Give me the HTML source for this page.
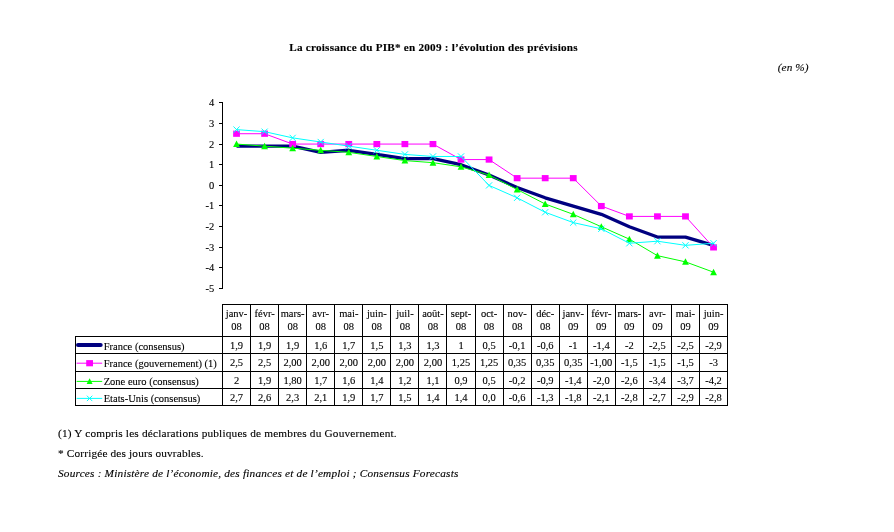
<!DOCTYPE html><html lang="fr"><head><meta charset="utf-8"><title>La croissance du PIB* en 2009</title>
<style>html,body{margin:0;padding:0;background:#fff}body{width:894px;height:532px;overflow:hidden}svg{display:block}text{font-family:"Liberation Serif","Times New Roman",serif;fill:#000;stroke:#000;stroke-width:0.12px}</style></head><body>
<svg width="894" height="532" viewBox="0 0 894 532">
<rect width="894" height="532" fill="#fff"/>
<text x="289.3" y="51" font-size="11.2" font-weight="bold" textLength="288.3" lengthAdjust="spacing">La croissance du PIB* en 2009 : l’évolution des prévisions</text>
<text x="777.8" y="71" font-size="11.3" font-style="italic" textLength="30.6" lengthAdjust="spacing">(en %)</text>
<g fill="#000">
<rect x="222" y="102" width="1" height="187"/>
<rect x="219" y="288" width="3" height="1"/>
<rect x="219" y="267" width="3" height="1"/>
<rect x="219" y="247" width="3" height="1"/>
<rect x="219" y="226" width="3" height="1"/>
<rect x="219" y="205" width="3" height="1"/>
<rect x="219" y="185" width="3" height="1"/>
<rect x="219" y="164" width="3" height="1"/>
<rect x="219" y="144" width="3" height="1"/>
<rect x="219" y="123" width="3" height="1"/>
<rect x="219" y="102" width="3" height="1"/>
</g>
<text transform="translate(214.30 292.30) scale(0.93 1)" font-size="11.3" text-anchor="end">-5</text>
<text transform="translate(214.30 271.30) scale(0.93 1)" font-size="11.3" text-anchor="end">-4</text>
<text transform="translate(214.30 251.30) scale(0.93 1)" font-size="11.3" text-anchor="end">-3</text>
<text transform="translate(214.30 230.30) scale(0.93 1)" font-size="11.3" text-anchor="end">-2</text>
<text transform="translate(214.30 209.30) scale(0.93 1)" font-size="11.3" text-anchor="end">-1</text>
<text transform="translate(214.30 189.30) scale(0.93 1)" font-size="11.3" text-anchor="end">0</text>
<text transform="translate(214.30 168.30) scale(0.93 1)" font-size="11.3" text-anchor="end">1</text>
<text transform="translate(214.30 148.30) scale(0.93 1)" font-size="11.3" text-anchor="end">2</text>
<text transform="translate(214.30 127.30) scale(0.93 1)" font-size="11.3" text-anchor="end">3</text>
<text transform="translate(214.30 106.30) scale(0.93 1)" font-size="11.3" text-anchor="end">4</text>
<polyline points="236.53,146.13 264.59,146.13 292.65,146.13 320.71,152.33 348.77,150.27 376.83,154.40 404.89,158.53 432.95,158.53 461.01,164.73 489.07,175.07 517.13,187.47 545.19,197.80 573.25,206.07 601.31,214.33 629.37,226.73 657.43,237.07 685.49,237.07 713.55,245.33" fill="none" stroke="#000080" stroke-width="3.3" stroke-linejoin="round"/>
<polyline points="236.53,133.73 264.59,133.73 292.65,144.07 320.71,144.07 348.77,144.07 376.83,144.07 404.89,144.07 432.95,144.07 461.01,159.57 489.07,159.57 517.13,178.17 545.19,178.17 573.25,178.17 601.31,206.07 629.37,216.40 657.43,216.40 685.49,216.40 713.55,247.40" fill="none" stroke="#ff00ff" stroke-width="1" stroke-linejoin="round"/>
<rect x="233.13" y="130.63" width="6.80" height="6.20" fill="#ff00ff"/>
<rect x="261.19" y="130.63" width="6.80" height="6.20" fill="#ff00ff"/>
<rect x="289.25" y="140.97" width="6.80" height="6.20" fill="#ff00ff"/>
<rect x="317.31" y="140.97" width="6.80" height="6.20" fill="#ff00ff"/>
<rect x="345.37" y="140.97" width="6.80" height="6.20" fill="#ff00ff"/>
<rect x="373.43" y="140.97" width="6.80" height="6.20" fill="#ff00ff"/>
<rect x="401.49" y="140.97" width="6.80" height="6.20" fill="#ff00ff"/>
<rect x="429.55" y="140.97" width="6.80" height="6.20" fill="#ff00ff"/>
<rect x="457.61" y="156.47" width="6.80" height="6.20" fill="#ff00ff"/>
<rect x="485.67" y="156.47" width="6.80" height="6.20" fill="#ff00ff"/>
<rect x="513.73" y="175.07" width="6.80" height="6.20" fill="#ff00ff"/>
<rect x="541.79" y="175.07" width="6.80" height="6.20" fill="#ff00ff"/>
<rect x="569.85" y="175.07" width="6.80" height="6.20" fill="#ff00ff"/>
<rect x="597.91" y="202.97" width="6.80" height="6.20" fill="#ff00ff"/>
<rect x="625.97" y="213.30" width="6.80" height="6.20" fill="#ff00ff"/>
<rect x="654.03" y="213.30" width="6.80" height="6.20" fill="#ff00ff"/>
<rect x="682.09" y="213.30" width="6.80" height="6.20" fill="#ff00ff"/>
<rect x="710.15" y="244.30" width="6.80" height="6.20" fill="#ff00ff"/>
<polyline points="236.53,144.07 264.59,146.13 292.65,148.20 320.71,150.27 348.77,152.33 376.83,156.47 404.89,160.60 432.95,162.67 461.01,166.80 489.07,175.07 517.13,189.53 545.19,204.00 573.25,214.33 601.31,226.73 629.37,239.13 657.43,255.67 685.49,261.87 713.55,272.20" fill="none" stroke="#00ff00" stroke-width="1" stroke-linejoin="round"/>
<path d="M236.53 140.57L239.93 147.07L233.13 147.07Z" fill="#00ff00"/>
<path d="M264.59 142.63L267.99 149.13L261.19 149.13Z" fill="#00ff00"/>
<path d="M292.65 144.70L296.05 151.20L289.25 151.20Z" fill="#00ff00"/>
<path d="M320.71 146.77L324.11 153.27L317.31 153.27Z" fill="#00ff00"/>
<path d="M348.77 148.83L352.17 155.33L345.37 155.33Z" fill="#00ff00"/>
<path d="M376.83 152.97L380.23 159.47L373.43 159.47Z" fill="#00ff00"/>
<path d="M404.89 157.10L408.29 163.60L401.49 163.60Z" fill="#00ff00"/>
<path d="M432.95 159.17L436.35 165.67L429.55 165.67Z" fill="#00ff00"/>
<path d="M461.01 163.30L464.41 169.80L457.61 169.80Z" fill="#00ff00"/>
<path d="M489.07 171.57L492.47 178.07L485.67 178.07Z" fill="#00ff00"/>
<path d="M517.13 186.03L520.53 192.53L513.73 192.53Z" fill="#00ff00"/>
<path d="M545.19 200.50L548.59 207.00L541.79 207.00Z" fill="#00ff00"/>
<path d="M573.25 210.83L576.65 217.33L569.85 217.33Z" fill="#00ff00"/>
<path d="M601.31 223.23L604.71 229.73L597.91 229.73Z" fill="#00ff00"/>
<path d="M629.37 235.63L632.77 242.13L625.97 242.13Z" fill="#00ff00"/>
<path d="M657.43 252.17L660.83 258.67L654.03 258.67Z" fill="#00ff00"/>
<path d="M685.49 258.37L688.89 264.87L682.09 264.87Z" fill="#00ff00"/>
<path d="M713.55 268.70L716.95 275.20L710.15 275.20Z" fill="#00ff00"/>
<polyline points="236.53,129.60 264.59,131.67 292.65,137.87 320.71,142.00 348.77,146.13 376.83,150.27 404.89,154.40 432.95,156.47 461.01,156.47 489.07,185.40 517.13,197.80 545.19,212.27 573.25,222.60 601.31,228.80 629.37,243.27 657.43,241.20 685.49,245.33 713.55,243.27" fill="none" stroke="#00ffff" stroke-width="1" stroke-linejoin="round"/>
<path d="M233.43 126.50L239.63 132.70M233.43 132.70L239.63 126.50" stroke="#00ffff" stroke-width="1" fill="none"/>
<path d="M261.49 128.57L267.69 134.77M261.49 134.77L267.69 128.57" stroke="#00ffff" stroke-width="1" fill="none"/>
<path d="M289.55 134.77L295.75 140.97M289.55 140.97L295.75 134.77" stroke="#00ffff" stroke-width="1" fill="none"/>
<path d="M317.61 138.90L323.81 145.10M317.61 145.10L323.81 138.90" stroke="#00ffff" stroke-width="1" fill="none"/>
<path d="M345.67 143.03L351.87 149.23M345.67 149.23L351.87 143.03" stroke="#00ffff" stroke-width="1" fill="none"/>
<path d="M373.73 147.17L379.93 153.37M373.73 153.37L379.93 147.17" stroke="#00ffff" stroke-width="1" fill="none"/>
<path d="M401.79 151.30L407.99 157.50M401.79 157.50L407.99 151.30" stroke="#00ffff" stroke-width="1" fill="none"/>
<path d="M429.85 153.37L436.05 159.57M429.85 159.57L436.05 153.37" stroke="#00ffff" stroke-width="1" fill="none"/>
<path d="M457.91 153.37L464.11 159.57M457.91 159.57L464.11 153.37" stroke="#00ffff" stroke-width="1" fill="none"/>
<path d="M485.97 182.30L492.17 188.50M485.97 188.50L492.17 182.30" stroke="#00ffff" stroke-width="1" fill="none"/>
<path d="M514.03 194.70L520.23 200.90M514.03 200.90L520.23 194.70" stroke="#00ffff" stroke-width="1" fill="none"/>
<path d="M542.09 209.17L548.29 215.37M542.09 215.37L548.29 209.17" stroke="#00ffff" stroke-width="1" fill="none"/>
<path d="M570.15 219.50L576.35 225.70M570.15 225.70L576.35 219.50" stroke="#00ffff" stroke-width="1" fill="none"/>
<path d="M598.21 225.70L604.41 231.90M598.21 231.90L604.41 225.70" stroke="#00ffff" stroke-width="1" fill="none"/>
<path d="M626.27 240.17L632.47 246.37M626.27 246.37L632.47 240.17" stroke="#00ffff" stroke-width="1" fill="none"/>
<path d="M654.33 238.10L660.53 244.30M654.33 244.30L660.53 238.10" stroke="#00ffff" stroke-width="1" fill="none"/>
<path d="M682.39 242.23L688.59 248.43M682.39 248.43L688.59 242.23" stroke="#00ffff" stroke-width="1" fill="none"/>
<path d="M710.45 240.17L716.65 246.37M710.45 246.37L716.65 240.17" stroke="#00ffff" stroke-width="1" fill="none"/>
<g stroke="#000" stroke-width="1" fill="none" shape-rendering="crispEdges">
<line x1="222.0" y1="304.5" x2="728.08" y2="304.5"/>
<line x1="75.0" y1="336.50" x2="728.08" y2="336.50"/>
<line x1="75.0" y1="353.80" x2="728.08" y2="353.80"/>
<line x1="75.0" y1="371.10" x2="728.08" y2="371.10"/>
<line x1="75.0" y1="388.40" x2="728.08" y2="388.40"/>
<line x1="75.0" y1="405.70" x2="728.08" y2="405.70"/>
<line x1="75.5" y1="336.5" x2="75.5" y2="405.70"/>
<line x1="222.50" y1="304.5" x2="222.50" y2="405.70"/>
<line x1="250.56" y1="304.5" x2="250.56" y2="405.70"/>
<line x1="278.62" y1="304.5" x2="278.62" y2="405.70"/>
<line x1="306.68" y1="304.5" x2="306.68" y2="405.70"/>
<line x1="334.74" y1="304.5" x2="334.74" y2="405.70"/>
<line x1="362.80" y1="304.5" x2="362.80" y2="405.70"/>
<line x1="390.86" y1="304.5" x2="390.86" y2="405.70"/>
<line x1="418.92" y1="304.5" x2="418.92" y2="405.70"/>
<line x1="446.98" y1="304.5" x2="446.98" y2="405.70"/>
<line x1="475.04" y1="304.5" x2="475.04" y2="405.70"/>
<line x1="503.10" y1="304.5" x2="503.10" y2="405.70"/>
<line x1="531.16" y1="304.5" x2="531.16" y2="405.70"/>
<line x1="559.22" y1="304.5" x2="559.22" y2="405.70"/>
<line x1="587.28" y1="304.5" x2="587.28" y2="405.70"/>
<line x1="615.34" y1="304.5" x2="615.34" y2="405.70"/>
<line x1="643.40" y1="304.5" x2="643.40" y2="405.70"/>
<line x1="671.46" y1="304.5" x2="671.46" y2="405.70"/>
<line x1="699.52" y1="304.5" x2="699.52" y2="405.70"/>
<line x1="727.58" y1="304.5" x2="727.58" y2="405.70"/>
</g>
<text transform="translate(236.53 317.00) scale(0.93 1)" font-size="11.3" text-anchor="middle">janv-</text>
<text transform="translate(236.53 329.50) scale(0.93 1)" font-size="11.3" text-anchor="middle">08</text>
<text transform="translate(264.59 317.00) scale(0.93 1)" font-size="11.3" text-anchor="middle">févr-</text>
<text transform="translate(264.59 329.50) scale(0.93 1)" font-size="11.3" text-anchor="middle">08</text>
<text transform="translate(292.65 317.00) scale(0.93 1)" font-size="11.3" text-anchor="middle">mars-</text>
<text transform="translate(292.65 329.50) scale(0.93 1)" font-size="11.3" text-anchor="middle">08</text>
<text transform="translate(320.71 317.00) scale(0.93 1)" font-size="11.3" text-anchor="middle">avr-</text>
<text transform="translate(320.71 329.50) scale(0.93 1)" font-size="11.3" text-anchor="middle">08</text>
<text transform="translate(348.77 317.00) scale(0.93 1)" font-size="11.3" text-anchor="middle">mai-</text>
<text transform="translate(348.77 329.50) scale(0.93 1)" font-size="11.3" text-anchor="middle">08</text>
<text transform="translate(376.83 317.00) scale(0.93 1)" font-size="11.3" text-anchor="middle">juin-</text>
<text transform="translate(376.83 329.50) scale(0.93 1)" font-size="11.3" text-anchor="middle">08</text>
<text transform="translate(404.89 317.00) scale(0.93 1)" font-size="11.3" text-anchor="middle">juil-</text>
<text transform="translate(404.89 329.50) scale(0.93 1)" font-size="11.3" text-anchor="middle">08</text>
<text transform="translate(432.95 317.00) scale(0.93 1)" font-size="11.3" text-anchor="middle">août-</text>
<text transform="translate(432.95 329.50) scale(0.93 1)" font-size="11.3" text-anchor="middle">08</text>
<text transform="translate(461.01 317.00) scale(0.93 1)" font-size="11.3" text-anchor="middle">sept-</text>
<text transform="translate(461.01 329.50) scale(0.93 1)" font-size="11.3" text-anchor="middle">08</text>
<text transform="translate(489.07 317.00) scale(0.93 1)" font-size="11.3" text-anchor="middle">oct-</text>
<text transform="translate(489.07 329.50) scale(0.93 1)" font-size="11.3" text-anchor="middle">08</text>
<text transform="translate(517.13 317.00) scale(0.93 1)" font-size="11.3" text-anchor="middle">nov-</text>
<text transform="translate(517.13 329.50) scale(0.93 1)" font-size="11.3" text-anchor="middle">08</text>
<text transform="translate(545.19 317.00) scale(0.93 1)" font-size="11.3" text-anchor="middle">déc-</text>
<text transform="translate(545.19 329.50) scale(0.93 1)" font-size="11.3" text-anchor="middle">08</text>
<text transform="translate(573.25 317.00) scale(0.93 1)" font-size="11.3" text-anchor="middle">janv-</text>
<text transform="translate(573.25 329.50) scale(0.93 1)" font-size="11.3" text-anchor="middle">09</text>
<text transform="translate(601.31 317.00) scale(0.93 1)" font-size="11.3" text-anchor="middle">févr-</text>
<text transform="translate(601.31 329.50) scale(0.93 1)" font-size="11.3" text-anchor="middle">09</text>
<text transform="translate(629.37 317.00) scale(0.93 1)" font-size="11.3" text-anchor="middle">mars-</text>
<text transform="translate(629.37 329.50) scale(0.93 1)" font-size="11.3" text-anchor="middle">09</text>
<text transform="translate(657.43 317.00) scale(0.93 1)" font-size="11.3" text-anchor="middle">avr-</text>
<text transform="translate(657.43 329.50) scale(0.93 1)" font-size="11.3" text-anchor="middle">09</text>
<text transform="translate(685.49 317.00) scale(0.93 1)" font-size="11.3" text-anchor="middle">mai-</text>
<text transform="translate(685.49 329.50) scale(0.93 1)" font-size="11.3" text-anchor="middle">09</text>
<text transform="translate(713.55 317.00) scale(0.93 1)" font-size="11.3" text-anchor="middle">juin-</text>
<text transform="translate(713.55 329.50) scale(0.93 1)" font-size="11.3" text-anchor="middle">09</text>
<text transform="translate(103.70 349.90) scale(0.93 1)" font-size="11.3">France (consensus)</text>
<text transform="translate(236.53 348.70) scale(0.93 1)" font-size="11.3" text-anchor="middle">1,9</text>
<text transform="translate(264.59 348.70) scale(0.93 1)" font-size="11.3" text-anchor="middle">1,9</text>
<text transform="translate(292.65 348.70) scale(0.93 1)" font-size="11.3" text-anchor="middle">1,9</text>
<text transform="translate(320.71 348.70) scale(0.93 1)" font-size="11.3" text-anchor="middle">1,6</text>
<text transform="translate(348.77 348.70) scale(0.93 1)" font-size="11.3" text-anchor="middle">1,7</text>
<text transform="translate(376.83 348.70) scale(0.93 1)" font-size="11.3" text-anchor="middle">1,5</text>
<text transform="translate(404.89 348.70) scale(0.93 1)" font-size="11.3" text-anchor="middle">1,3</text>
<text transform="translate(432.95 348.70) scale(0.93 1)" font-size="11.3" text-anchor="middle">1,3</text>
<text transform="translate(461.01 348.70) scale(0.93 1)" font-size="11.3" text-anchor="middle">1</text>
<text transform="translate(489.07 348.70) scale(0.93 1)" font-size="11.3" text-anchor="middle">0,5</text>
<text transform="translate(517.13 348.70) scale(0.93 1)" font-size="11.3" text-anchor="middle">-0,1</text>
<text transform="translate(545.19 348.70) scale(0.93 1)" font-size="11.3" text-anchor="middle">-0,6</text>
<text transform="translate(573.25 348.70) scale(0.93 1)" font-size="11.3" text-anchor="middle">-1</text>
<text transform="translate(601.31 348.70) scale(0.93 1)" font-size="11.3" text-anchor="middle">-1,4</text>
<text transform="translate(629.37 348.70) scale(0.93 1)" font-size="11.3" text-anchor="middle">-2</text>
<text transform="translate(657.43 348.70) scale(0.93 1)" font-size="11.3" text-anchor="middle">-2,5</text>
<text transform="translate(685.49 348.70) scale(0.93 1)" font-size="11.3" text-anchor="middle">-2,5</text>
<text transform="translate(713.55 348.70) scale(0.93 1)" font-size="11.3" text-anchor="middle">-2,9</text>
<line x1="78" y1="345.00" x2="100.7" y2="345.00" stroke="#000080" stroke-width="4" stroke-linecap="round"/>
<text transform="translate(103.70 367.40) scale(0.93 1)" font-size="11.3">France (gouvernement) (1)</text>
<text transform="translate(236.53 366.20) scale(0.93 1)" font-size="11.3" text-anchor="middle">2,5</text>
<text transform="translate(264.59 366.20) scale(0.93 1)" font-size="11.3" text-anchor="middle">2,5</text>
<text transform="translate(292.65 366.20) scale(0.93 1)" font-size="11.3" text-anchor="middle">2,00</text>
<text transform="translate(320.71 366.20) scale(0.93 1)" font-size="11.3" text-anchor="middle">2,00</text>
<text transform="translate(348.77 366.20) scale(0.93 1)" font-size="11.3" text-anchor="middle">2,00</text>
<text transform="translate(376.83 366.20) scale(0.93 1)" font-size="11.3" text-anchor="middle">2,00</text>
<text transform="translate(404.89 366.20) scale(0.93 1)" font-size="11.3" text-anchor="middle">2,00</text>
<text transform="translate(432.95 366.20) scale(0.93 1)" font-size="11.3" text-anchor="middle">2,00</text>
<text transform="translate(461.01 366.20) scale(0.93 1)" font-size="11.3" text-anchor="middle">1,25</text>
<text transform="translate(489.07 366.20) scale(0.93 1)" font-size="11.3" text-anchor="middle">1,25</text>
<text transform="translate(517.13 366.20) scale(0.93 1)" font-size="11.3" text-anchor="middle">0,35</text>
<text transform="translate(545.19 366.20) scale(0.93 1)" font-size="11.3" text-anchor="middle">0,35</text>
<text transform="translate(573.25 366.20) scale(0.93 1)" font-size="11.3" text-anchor="middle">0,35</text>
<text transform="translate(601.31 366.20) scale(0.93 1)" font-size="11.3" text-anchor="middle">-1,00</text>
<text transform="translate(629.37 366.20) scale(0.93 1)" font-size="11.3" text-anchor="middle">-1,5</text>
<text transform="translate(657.43 366.20) scale(0.93 1)" font-size="11.3" text-anchor="middle">-1,5</text>
<text transform="translate(685.49 366.20) scale(0.93 1)" font-size="11.3" text-anchor="middle">-1,5</text>
<text transform="translate(713.55 366.20) scale(0.93 1)" font-size="11.3" text-anchor="middle">-3</text>
<line x1="76.6" y1="363.20" x2="102.2" y2="363.20" stroke="#ff00ff" stroke-width="1"/>
<rect x="86.20" y="360.10" width="6.80" height="6.20" fill="#ff00ff"/>
<text transform="translate(103.70 384.90) scale(0.93 1)" font-size="11.3">Zone euro (consensus)</text>
<text transform="translate(236.53 383.70) scale(0.93 1)" font-size="11.3" text-anchor="middle">2</text>
<text transform="translate(264.59 383.70) scale(0.93 1)" font-size="11.3" text-anchor="middle">1,9</text>
<text transform="translate(292.65 383.70) scale(0.93 1)" font-size="11.3" text-anchor="middle">1,80</text>
<text transform="translate(320.71 383.70) scale(0.93 1)" font-size="11.3" text-anchor="middle">1,7</text>
<text transform="translate(348.77 383.70) scale(0.93 1)" font-size="11.3" text-anchor="middle">1,6</text>
<text transform="translate(376.83 383.70) scale(0.93 1)" font-size="11.3" text-anchor="middle">1,4</text>
<text transform="translate(404.89 383.70) scale(0.93 1)" font-size="11.3" text-anchor="middle">1,2</text>
<text transform="translate(432.95 383.70) scale(0.93 1)" font-size="11.3" text-anchor="middle">1,1</text>
<text transform="translate(461.01 383.70) scale(0.93 1)" font-size="11.3" text-anchor="middle">0,9</text>
<text transform="translate(489.07 383.70) scale(0.93 1)" font-size="11.3" text-anchor="middle">0,5</text>
<text transform="translate(517.13 383.70) scale(0.93 1)" font-size="11.3" text-anchor="middle">-0,2</text>
<text transform="translate(545.19 383.70) scale(0.93 1)" font-size="11.3" text-anchor="middle">-0,9</text>
<text transform="translate(573.25 383.70) scale(0.93 1)" font-size="11.3" text-anchor="middle">-1,4</text>
<text transform="translate(601.31 383.70) scale(0.93 1)" font-size="11.3" text-anchor="middle">-2,0</text>
<text transform="translate(629.37 383.70) scale(0.93 1)" font-size="11.3" text-anchor="middle">-2,6</text>
<text transform="translate(657.43 383.70) scale(0.93 1)" font-size="11.3" text-anchor="middle">-3,4</text>
<text transform="translate(685.49 383.70) scale(0.93 1)" font-size="11.3" text-anchor="middle">-3,7</text>
<text transform="translate(713.55 383.70) scale(0.93 1)" font-size="11.3" text-anchor="middle">-4,2</text>
<line x1="76.6" y1="381.40" x2="102.2" y2="381.40" stroke="#00ff00" stroke-width="1"/>
<path d="M89.60 378.32L92.59 384.04L86.61 384.04Z" fill="#00ff00"/>
<text transform="translate(103.70 401.90) scale(0.93 1)" font-size="11.3">Etats-Unis (consensus)</text>
<text transform="translate(236.53 400.70) scale(0.93 1)" font-size="11.3" text-anchor="middle">2,7</text>
<text transform="translate(264.59 400.70) scale(0.93 1)" font-size="11.3" text-anchor="middle">2,6</text>
<text transform="translate(292.65 400.70) scale(0.93 1)" font-size="11.3" text-anchor="middle">2,3</text>
<text transform="translate(320.71 400.70) scale(0.93 1)" font-size="11.3" text-anchor="middle">2,1</text>
<text transform="translate(348.77 400.70) scale(0.93 1)" font-size="11.3" text-anchor="middle">1,9</text>
<text transform="translate(376.83 400.70) scale(0.93 1)" font-size="11.3" text-anchor="middle">1,7</text>
<text transform="translate(404.89 400.70) scale(0.93 1)" font-size="11.3" text-anchor="middle">1,5</text>
<text transform="translate(432.95 400.70) scale(0.93 1)" font-size="11.3" text-anchor="middle">1,4</text>
<text transform="translate(461.01 400.70) scale(0.93 1)" font-size="11.3" text-anchor="middle">1,4</text>
<text transform="translate(489.07 400.70) scale(0.93 1)" font-size="11.3" text-anchor="middle">0,0</text>
<text transform="translate(517.13 400.70) scale(0.93 1)" font-size="11.3" text-anchor="middle">-0,6</text>
<text transform="translate(545.19 400.70) scale(0.93 1)" font-size="11.3" text-anchor="middle">-1,3</text>
<text transform="translate(573.25 400.70) scale(0.93 1)" font-size="11.3" text-anchor="middle">-1,8</text>
<text transform="translate(601.31 400.70) scale(0.93 1)" font-size="11.3" text-anchor="middle">-2,1</text>
<text transform="translate(629.37 400.70) scale(0.93 1)" font-size="11.3" text-anchor="middle">-2,8</text>
<text transform="translate(657.43 400.70) scale(0.93 1)" font-size="11.3" text-anchor="middle">-2,7</text>
<text transform="translate(685.49 400.70) scale(0.93 1)" font-size="11.3" text-anchor="middle">-2,9</text>
<text transform="translate(713.55 400.70) scale(0.93 1)" font-size="11.3" text-anchor="middle">-2,8</text>
<line x1="76.6" y1="398.40" x2="102.2" y2="398.40" stroke="#00ffff" stroke-width="1"/>
<path d="M86.90 395.70L92.30 401.10M86.90 401.10L92.30 395.70" stroke="#00ffff" stroke-width="1" fill="none"/>
<text x="58" y="437" font-size="11.3" textLength="338.6" lengthAdjust="spacing">(1) Y compris les déclarations publiques de membres du Gouvernement.</text>
<text x="58" y="457.3" font-size="11.3" textLength="145.6" lengthAdjust="spacing">* Corrigée des jours ouvrables.</text>
<text x="58" y="477.3" font-size="11.3" font-style="italic" textLength="400.4" lengthAdjust="spacing">Sources : Ministère de l’économie, des finances et de l’emploi ; Consensus Forecasts</text>
</svg></body></html>
